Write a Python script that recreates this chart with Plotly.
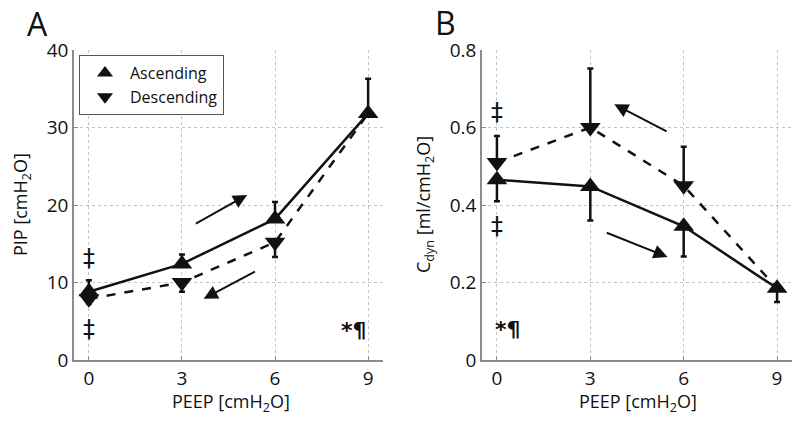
import plotly.graph_objects as go
from plotly.subplots import make_subplots

peep = [0, 3, 6, 9]

# panel A: PIP
pip_asc = [8.8, 12.4, 18.2, 31.8]
pip_asc_err = [1.5, 1.2, 2.2, 4.5]
pip_desc = [7.9, 10.0, 15.2, 31.8]
pip_desc_err = [0.6, 1.2, 1.9, 0.0]

# panel B: Cdyn
cdyn_asc = [0.465, 0.448, 0.345, 0.185]
cdyn_asc_err = [0.055, 0.088, 0.078, 0.035]
cdyn_desc = [0.510, 0.600, 0.450, 0.185]
cdyn_desc_err = [0.068, 0.152, 0.100, 0.0]

FONT = "Open Sans"
BLACK = "#111111"

# page has an 8px body margin, so the figure is a bit smaller than the window
OFF = 8
W, H = 800 - 2 * OFF, 427 - 2 * OFF

def px(x):
    return (x - OFF) / W

def py(y):
    return 1 - (y - OFF) / H

fig = make_subplots(rows=1, cols=2)

def add_pair(col, asc, asc_err, desc, desc_err, asc_up):
    eb = dict(type="data", symmetric=False, color=BLACK, thickness=2.5, width=3)
    zeros = [0] * len(peep)
    # descending run starts at the top PEEP, so no separate marker there
    fig.add_trace(go.Scatter(
        x=peep, y=desc, mode="lines+markers", showlegend=False,
        line=dict(color=BLACK, width=2.5, dash="dash"),
        marker=dict(symbol="triangle-down", size=[18, 18, 18, 0], color=BLACK,
                    opacity=1, line=dict(width=0)),
        error_y=dict(eb, array=zeros if asc_up else desc_err,
                     arrayminus=desc_err if asc_up else zeros),
    ), row=1, col=col)
    fig.add_trace(go.Scatter(
        x=peep, y=asc, mode="lines+markers", showlegend=False,
        line=dict(color=BLACK, width=2.5),
        marker=dict(symbol="triangle-up", size=18, color=BLACK, line=dict(width=0)),
        error_y=dict(eb, array=asc_err if asc_up else zeros,
                     arrayminus=zeros if asc_up else asc_err),
    ), row=1, col=col)

add_pair(1, pip_asc, pip_asc_err, pip_desc, pip_desc_err, True)
add_pair(2, cdyn_asc, cdyn_asc_err, cdyn_desc, cdyn_desc_err, False)

# legend entries (markers only)
fig.add_trace(go.Scatter(x=[None], y=[None], mode="markers", name="Ascending",
                         marker=dict(symbol="triangle-up", size=14, color=BLACK)), row=1, col=1)
fig.add_trace(go.Scatter(x=[None], y=[None], mode="markers", name="Descending",
                         marker=dict(symbol="triangle-down", size=14, color=BLACK)), row=1, col=1)

axis_common = dict(
    showline=True, linecolor="#8c8c8c", linewidth=1.5,
    showgrid=True, gridcolor="#c4c4c4", griddash="dot", gridwidth=1,
    zeroline=False, ticks="inside", ticklen=4, tickcolor="#8c8c8c",
    tickfont=dict(family=FONT, size=19, color=BLACK),
    mirror=False, automargin=False,
)
fig.update_xaxes(axis_common, range=[-0.48, 9.48], tickvals=peep)
fig.update_xaxes(domain=[px(74), px(383)], row=1, col=1)
fig.update_xaxes(domain=[px(482), min(1, px(792))], row=1, col=2)
fig.update_yaxes(axis_common, domain=[py(360), py(50)])
fig.update_yaxes(range=[0, 40], tickvals=[0, 10, 20, 30, 40], row=1, col=1)
fig.update_yaxes(range=[0, 0.8], tickvals=[0, 0.2, 0.4, 0.6, 0.8], row=1, col=2)

# axis titles as annotations
tfont = dict(family=FONT, size=18, color=BLACK)
titles = [
    (231, 402, "PEEP [cmH<sub>2</sub>O]", 0),
    (638, 402, "PEEP [cmH<sub>2</sub>O]", 0),
    (21, 205, "PIP [cmH<sub>2</sub>O]", -90),
    (424, 205, "C<sub>dyn</sub> [ml/cmH<sub>2</sub>O]", -90),
]
for x, y, t, ang in titles:
    fig.add_annotation(x=px(x), y=py(y), xref="paper", yref="paper", text=t, textangle=ang,
                       showarrow=False, font=tfont, xanchor="center", yanchor="middle")

# arrows
arrows = [
    ("x", "y", 3.4, 17.5, 5.1, 21.3),
    ("x", "y", 5.4, 11.5, 3.7, 7.9),
    ("x2", "y2", 5.5, 0.588, 3.77, 0.66),
    ("x2", "y2", 3.48, 0.33, 5.48, 0.266),
]
for xr, yr, x0, y0, x1, y1 in arrows:
    fig.add_annotation(x=x1, y=y1, ax=x0, ay=y0, xref=xr, yref=yr, axref=xr, ayref=yr,
                       showarrow=True, arrowhead=2, arrowsize=1.4, arrowwidth=2, arrowcolor=BLACK, text="")

marks = [
    ("x", "y", 0, 13.1, "‡", 24), ("x", "y", 0, 4.0, "‡", 24), ("x", "y", 8.55, 3.8, "<b>*¶</b>", 22),
    ("x2", "y2", 0, 0.64, "‡", 24), ("x2", "y2", 0, 0.345, "‡", 24), ("x2", "y2", 0.35, 0.08, "<b>*¶</b>", 22),
]
for xr, yr, x, y, t, s in marks:
    fig.add_annotation(x=x, y=y, xref=xr, yref=yr, text=t, showarrow=False,
                       font=dict(family="DejaVu Sans", size=s, color=BLACK))

fig.add_annotation(x=px(37), y=py(24), xref="paper", yref="paper", text="A", showarrow=False,
                   font=dict(family=FONT, size=32, color=BLACK), xanchor="center", yanchor="middle")
fig.add_annotation(x=px(445), y=py(23), xref="paper", yref="paper", text="B", showarrow=False,
                   font=dict(family=FONT, size=32, color=BLACK), xanchor="center", yanchor="middle")

fig.update_layout(
    width=W, height=H,
    margin=dict(l=0, r=0, t=0, b=0),
    paper_bgcolor="white", plot_bgcolor="white",
    font=dict(family=FONT, color=BLACK),
    showlegend=True,
    legend=dict(x=px(79), y=py(55), xanchor="left", yanchor="top",
                bordercolor="#555555", borderwidth=1, bgcolor="white",
                font=dict(family=FONT, size=16, color=BLACK),
                tracegroupgap=0, itemwidth=40),
)

fig.write_html("out.html")
